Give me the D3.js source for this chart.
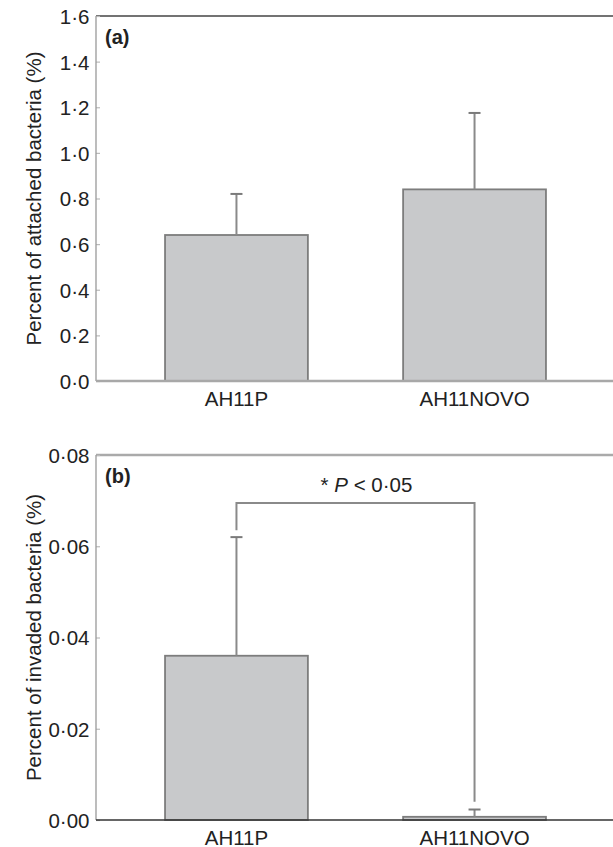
<!DOCTYPE html>
<html>
<head>
<meta charset="utf-8">
<script src="https://cdn.jsdelivr.net/npm/d3@7"></script>
<style>
  body { margin: 0; background: #fff; }
  text { font-family: "Liberation Sans", Arial, sans-serif; fill: #222; }
</style>
</head>
<body>
<svg id="chart" width="613" height="847"></svg>
<script>
// data
var categories = ["AH11P", "AH11NOVO"];
var attachedMean = [0.64, 0.84];
var attachedErr = [0.18, 0.335];
var attachedTicks = [0, 0.2, 0.4, 0.6, 0.8, 1.0, 1.2, 1.4, 1.6];
var invadedMean = [0.036, 0.0007];
var invadedErr = [0.026, 0.0016];
var invadedTicks = [0, 0.02, 0.04, 0.06, 0.08];
var sigBracket = [0.0695, 0.0635, 0.0040]; // top, left end, right end
var sigLabel = "P < 0·05";

var svg = d3.select("#chart");
var left = 96, right = 613;

// shared x scale for both panels
var x = d3.scaleBand().domain(categories).range([left, 615])
    .paddingInner(0.4).paddingOuter(0.29);

function dotFmt(f) {
  var fmt = d3.format(f);
  return function(d) { return fmt(d).replace(".", "·"); };
}

function drawPanel(opt) {
  var y = d3.scaleLinear().domain([0, opt.max]).range([opt.bottom, opt.top]);
  var g = svg.append("g");

  // top frame line
  g.append("line").attr("x1", left).attr("x2", right)
    .attr("y1", opt.top).attr("y2", opt.top)
    .attr("stroke", opt.topColor).attr("stroke-width", opt.topWidth);

  // y axis ticks + labels
  var ax = g.append("g").attr("transform", "translate(" + left + ",0)")
    .call(d3.axisLeft(y).tickValues(opt.ticks).tickFormat(dotFmt(opt.fmt))
      .tickSize(-4).tickPadding(6.5));
  ax.select(".domain").remove();
  ax.selectAll(".tick line").attr("stroke", "#bbb").attr("stroke-width", 1.2);
  ax.selectAll(".tick text").style("font-size", "20.5px").attr("fill", "#222")
    .attr("dy", "0.36em");

  // left axis line
  g.append("line").attr("x1", left).attr("x2", left)
    .attr("y1", opt.top).attr("y2", opt.bottom)
    .attr("stroke", "#999").attr("stroke-width", 1.3);

  // bars
  g.selectAll("rect.bar").data(opt.means).enter().append("rect")
    .attr("class", "bar")
    .attr("x", function(d, i) { return x(categories[i]); })
    .attr("width", x.bandwidth())
    .attr("y", function(d) { return y(d); })
    .attr("height", function(d) { return opt.bottom - y(d); })
    .attr("fill", "#c8c9cb").attr("stroke", "#7d7d7d").attr("stroke-width", 1.8);

  // error bars (upper only)
  opt.means.forEach(function(m, i) {
    var cx = x(categories[i]) + x.bandwidth() / 2;
    g.append("line").attr("x1", cx).attr("x2", cx)
      .attr("y1", y(m)).attr("y2", y(m + opt.errs[i]))
      .attr("stroke", "#8a8a8a").attr("stroke-width", 2);
    g.append("line").attr("x1", cx - 6).attr("x2", cx + 6)
      .attr("y1", y(m + opt.errs[i])).attr("y2", y(m + opt.errs[i]))
      .attr("stroke", "#7a7a7a").attr("stroke-width", 2);
  });

  // bottom axis line
  g.append("line").attr("x1", left).attr("x2", right)
    .attr("y1", opt.bottom).attr("y2", opt.bottom)
    .attr("stroke", opt.botColor).attr("stroke-width", opt.botWidth);

  // category labels
  g.selectAll("text.cat").data(categories).enter().append("text")
    .attr("class", "cat")
    .attr("x", function(d) { return x(d) + x.bandwidth() / 2; })
    .attr("y", opt.bottom + 24.5)
    .attr("text-anchor", "middle")
    .style("font-size", "20.5px")
    .text(function(d) { return d; });

  // y axis title
  g.append("text")
    .attr("transform", "translate(41," + ((opt.top + opt.bottom) / 2) + ") rotate(-90)")
    .attr("text-anchor", "middle")
    .style("font-size", "20.5px")
    .text(opt.title);

  // panel letter
  g.append("text").attr("x", 105).attr("y", opt.top + 28)
    .style("font-size", "20px").style("font-weight", "bold")
    .text(opt.letter);

  return y;
}

drawPanel({
  top: 16, bottom: 381, max: 1.6, ticks: attachedTicks, fmt: ".1f",
  means: attachedMean, errs: attachedErr,
  title: "Percent of attached bacteria (%)", letter: "(a)",
  topColor: "#444", topWidth: 1.5, botColor: "#a8a8a8", botWidth: 2.5
});

var yb = drawPanel({
  top: 455, bottom: 820, max: 0.08, ticks: invadedTicks, fmt: ".2f",
  means: invadedMean, errs: invadedErr,
  title: "Percent of invaded bacteria (%)", letter: "(b)",
  topColor: "#aaa", topWidth: 2.5, botColor: "#333", botWidth: 1.3
});

// significance bracket on panel b
var c1 = x(categories[0]) + x.bandwidth() / 2;
var c2 = x(categories[1]) + x.bandwidth() / 2;
svg.append("path")
  .attr("d", "M" + c1 + "," + yb(sigBracket[1]) + "V" + yb(sigBracket[0]) +
    "H" + c2 + "V" + yb(sigBracket[2]))
  .attr("fill", "none").attr("stroke", "#8a8a8a").attr("stroke-width", 2);

var sig = svg.append("text")
  .attr("x", (c1 + c2) / 2 + 11).attr("y", yb(sigBracket[0]) - 10.5)
  .attr("text-anchor", "middle")
  .style("font-size", "20.5px");
sig.append("tspan").text("* ");
sig.append("tspan").style("font-style", "italic").text("P");
sig.append("tspan").text(sigLabel.slice(1));
</script>
</body>
</html>
